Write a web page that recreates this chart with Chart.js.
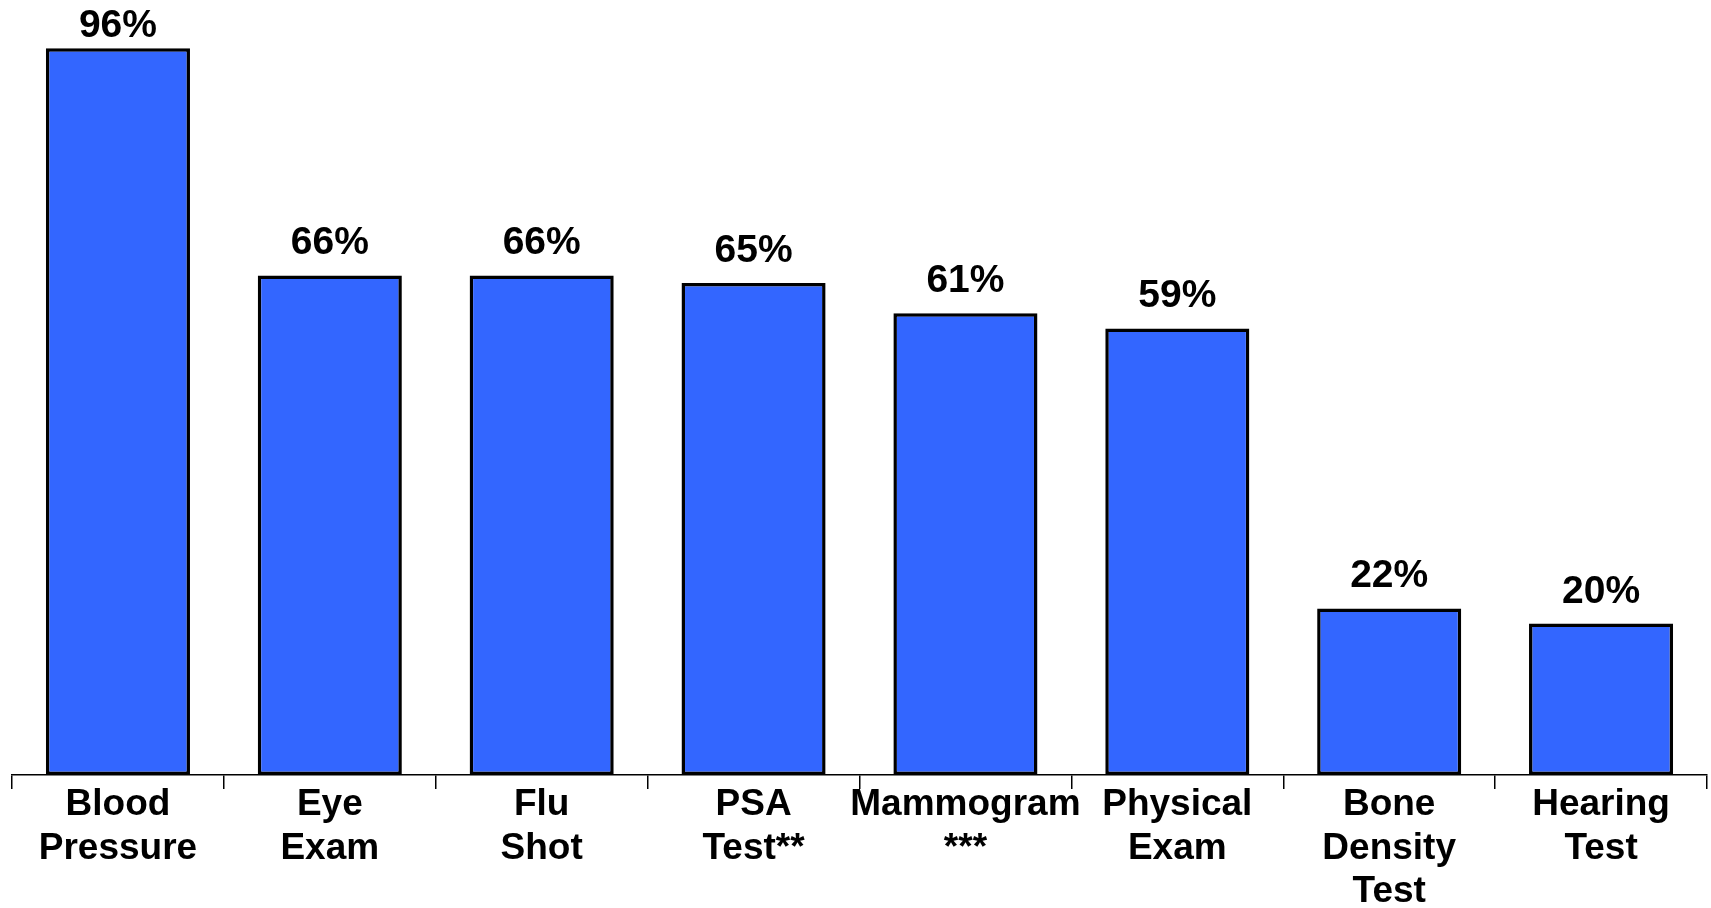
<!DOCTYPE html>
<html>
<head>
<meta charset="utf-8">
<script src="https://cdn.jsdelivr.net/npm/chart.js@4.4.1/dist/chart.umd.min.js"></script>
<style>
  html, body { margin: 0; padding: 0; background: #ffffff; }
  #wrap { width: 1711px; height: 908px; position: relative; }
</style>
</head>
<body>
<div id="wrap"><canvas id="screeningChart"></canvas></div>
<script>
const categories = [
  ['Blood', 'Pressure'],
  ['Eye', 'Exam'],
  ['Flu', 'Shot'],
  ['PSA', 'Test**'],
  ['Mammogram', '***'],
  ['Physical', 'Exam'],
  ['Bone', 'Density', 'Test'],
  ['Hearing', 'Test'],
];
const percentages = [96, 66, 66, 65, 61, 59, 22, 20];

const fontFamily = '"Liberation Sans", Arial, sans-serif';

const valueLabels = {
  id: 'valueLabels',
  afterDatasetsDraw(chart) {
    const { ctx } = chart;
    const meta = chart.getDatasetMeta(0);
    ctx.save();
    ctx.fillStyle = '#000000';
    ctx.font = `bold 39px ${fontFamily}`;
    ctx.textAlign = 'center';
    ctx.textBaseline = 'alphabetic';
    meta.data.forEach((bar, i) => {
      const y = Math.max(bar.y - 21, 37);
      ctx.fillText(`${percentages[i]}%`, bar.x, y);
    });
    ctx.restore();
  },
};

new Chart(document.getElementById('screeningChart'), {
  type: 'bar',
  data: {
    labels: categories,
    datasets: [
      {
        data: percentages,
        backgroundColor: '#3366ff',
        borderColor: '#000000',
        borderWidth: 3.5,
        borderSkipped: false,
        barPercentage: 0.68,
        categoryPercentage: 1,
      },
    ],
  },
  options: {
    responsive: true,
    maintainAspectRatio: false,
    animation: false,
    layout: {
      padding: { left: 12, right: 4, top: 18, bottom: 0 },
    },
    scales: {
      x: {
        grid: {
          display: true,
          drawOnChartArea: false,
          drawTicks: true,
          tickLength: 14,
          color: '#000000',
          lineWidth: 1.5,
        },
        border: { color: '#000000', width: 1.5 },
        ticks: {
          color: '#000000',
          font: { family: fontFamily, size: 37, weight: 'bold', lineHeight: 1.18 },
          padding: -6,
          maxRotation: 0,
          minRotation: 0,
          autoSkip: false,
        },
      },
      y: {
        display: false,
        min: 0,
        max: 100,
      },
    },
    plugins: {
      legend: { display: false },
      tooltip: { enabled: false },
    },
  },
  plugins: [valueLabels],
});
</script>
</body>
</html>
